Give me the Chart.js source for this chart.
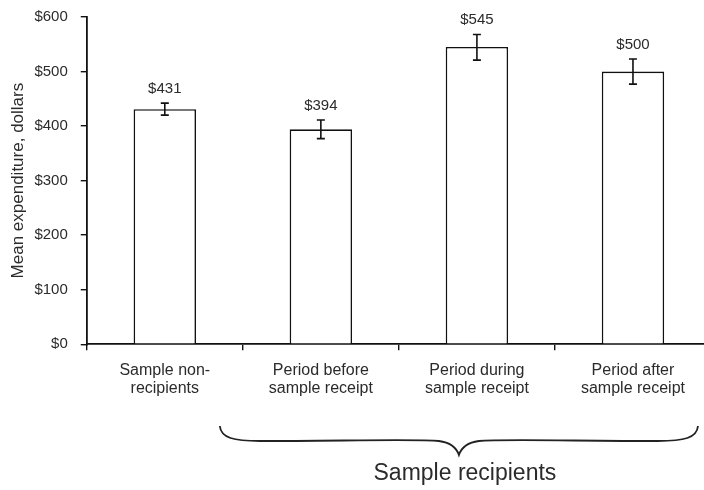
<!DOCTYPE html>
<html>
<head>
<meta charset="utf-8">
<script src="https://cdn.jsdelivr.net/npm/chart.js@4.4.1/dist/chart.umd.min.js"></script>
<style>
  html, body { margin: 0; padding: 0; background: #fff; overflow: hidden; }
  #wrap { width: 711px; height: 490px; position: relative; }
</style>
</head>
<body>
<div id="wrap"><canvas id="chart"></canvas></div>
<script>
const categories = [
    ['Sample non-', 'recipients'],
    ['Period before', 'sample receipt'],
    ['Period during', 'sample receipt'],
    ['Period after', 'sample receipt']
];
const meanValues = [431, 394, 545, 500];
const errorLow = [420, 377, 521, 477];
const errorHigh = [442, 411, 568, 523];
const valueLabels = ['$431', '$394', '$545', '$500'];
const yTicks = [0, 100, 200, 300, 400, 500, 600];
const groupLabel = 'Sample recipients';
const groupStart = 1;
const groupEnd = 3;

const textColor = '#2b2b2b';
const fontFamily = '"Liberation Sans", Arial, sans-serif';

// error bars + value labels above each bar
const errorBarPlugin = {
    id: 'errorBars',
    afterDatasetsDraw(chart) {
        const ctx = chart.ctx;
        const x = chart.scales.x;
        const y = chart.scales.y;
        ctx.save();
        ctx.strokeStyle = '#111';
        ctx.lineWidth = 1.6;
        meanValues.forEach((v, i) => {
            const cx = x.getPixelForValue(i);
            const top = y.getPixelForValue(errorHigh[i]);
            const bot = y.getPixelForValue(errorLow[i]);
            ctx.beginPath();
            ctx.moveTo(cx, top); ctx.lineTo(cx, bot);
            ctx.moveTo(cx - 4, top); ctx.lineTo(cx + 4, top);
            ctx.moveTo(cx - 4, bot); ctx.lineTo(cx + 4, bot);
            ctx.stroke();
            ctx.fillStyle = textColor;
            ctx.font = '15px ' + fontFamily;
            ctx.textAlign = 'center';
            ctx.textBaseline = 'bottom';
            ctx.fillText(valueLabels[i], cx, top - 7);
        });
        ctx.restore();
    }
};

// curly brace under the recipient categories
const bracePlugin = {
    id: 'brace',
    afterDraw(chart) {
        const ctx = chart.ctx;
        const x = chart.scales.x;
        const left = x.getPixelForValue(groupStart) - 101;
        const right = x.getPixelForValue(groupEnd) + 65;
        const mid = (left + right) / 2;
        const top = 426;
        const line = 441;
        const tip = 455;
        ctx.save();
        ctx.strokeStyle = '#222';
        ctx.lineWidth = 1.8;
        ctx.beginPath();
        ctx.moveTo(left, top);
        ctx.bezierCurveTo(left + 1, line - 3, left + 14, line, left + 40, line);
        ctx.bezierCurveTo(mid - 120, line, mid - 40, line - 2, mid - 20, line);
        ctx.quadraticCurveTo(mid - 4, line + 2, mid, tip);
        ctx.quadraticCurveTo(mid + 4, line + 2, mid + 20, line);
        ctx.bezierCurveTo(mid + 40, line - 2, mid + 120, line, right - 40, line);
        ctx.bezierCurveTo(right - 14, line, right - 1, line - 3, right, top);
        ctx.stroke();
        ctx.fillStyle = textColor;
        ctx.font = '23px ' + fontFamily;
        ctx.textAlign = 'center';
        ctx.textBaseline = 'middle';
        ctx.fillText(groupLabel, mid + 6, 474);
        ctx.restore();
    }
};

new Chart(document.getElementById('chart'), {
    type: 'bar',
    data: {
        labels: categories,
        datasets: [{
            data: meanValues,
            backgroundColor: '#ffffff',
            borderColor: '#111111',
            borderWidth: 1.6,
            borderSkipped: 'bottom',
            barPercentage: 0.4,
            categoryPercentage: 1.0
        }]
    },
    options: {
        responsive: true,
        maintainAspectRatio: false,
        animation: false,
        layout: { padding: { top: 17, right: 0, bottom: 81, left: 1 } },
        plugins: {
            legend: { display: false },
            tooltip: { enabled: false }
        },
        scales: {
            x: {
                offset: true,
                grid: {
                    offset: true,
                    drawOnChartArea: false,
                    drawTicks: true,
                    tickLength: 6,
                    color: '#111',
                    lineWidth: 1.4
                },
                border: { color: '#111', width: 1.8 },
                ticks: {
                    color: textColor,
                    font: { family: fontFamily, size: 16, lineHeight: 1.15 },
                    padding: 11,
                    maxRotation: 0,
                    autoSkip: false
                }
            },
            y: {
                min: 0,
                max: 600,
                afterBuildTicks(axis) {
                    axis.ticks = yTicks.map(v => ({ value: v }));
                },
                grid: {
                    drawOnChartArea: false,
                    drawTicks: true,
                    tickLength: 6,
                    color: '#111',
                    lineWidth: 1.4
                },
                border: { color: '#111', width: 1.8 },
                ticks: {
                    color: textColor,
                    // small lineHeight keeps the top label from pushing the chart area down
                    font: { family: fontFamily, size: 15, lineHeight: 0.5 },
                    padding: 13,
                    callback: v => '$' + v
                },
                title: {
                    display: true,
                    text: 'Mean expenditure, dollars',
                    color: textColor,
                    font: { family: fontFamily, size: 17 },
                    padding: { top: 7, bottom: -7 }
                }
            }
        }
    },
    plugins: [errorBarPlugin, bracePlugin]
});
</script>
</body>
</html>
